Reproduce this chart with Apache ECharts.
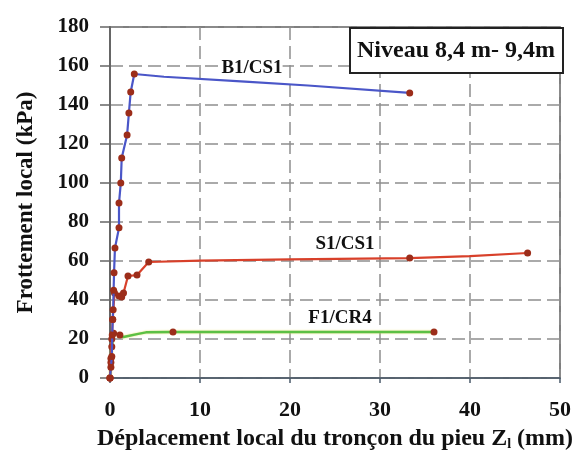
<!DOCTYPE html>
<html lang="fr">
<head>
    <meta charset="UTF-8">
    <title>Frottement local</title>
    <script src="https://cdn.jsdelivr.net/npm/echarts@6/dist/echarts.min.js"></script>
</head>
<body style="margin:0">
<div id="chart" style="width: 582px;height: 460px;"></div>
<script>
    // valeurs (Z en mm, frottement en kPa)
    var b1Disp = [0, 0.1, 0.2, 0.25, 0.3, 0.35, 0.4, 0.45, 0.55, 1.0, 1.0, 1.2, 1.3, 1.9, 2.1, 2.3, 2.7, 6, 15, 22, 33.3];
    var b1Frot = [0, 5.5, 11, 22, 30, 35, 45, 54, 66.7, 77, 89.7, 100, 112.8, 124.6, 135.9, 146.7, 155.9, 154.5, 152, 150, 146.2];
    var b1Marks = [1, 1, 1, 1, 1, 1, 1, 1, 1, 1, 1, 1, 1, 1, 1, 1, 1, 0, 0, 0, 1];

    var s1Disp = [0, 0.1, 0.2, 0.3, 0.5, 1.0, 1.3, 1.5, 2.0, 3.0, 4.3, 10, 20, 33.3, 40, 46.4];
    var s1Frot = [0, 10, 20, 30, 43.6, 42, 41.5, 43.6, 52.3, 52.8, 59.5, 60.2, 60.8, 61.5, 62.5, 64.1];
    var s1Marks = [1, 1, 1, 1, 1, 1, 1, 1, 1, 1, 1, 0, 0, 1, 0, 1];

    var f1Disp = [0, 0.1, 0.2, 0.4, 1.1, 1.5, 3.0, 4.0, 7.0, 20, 36.0];
    var f1Frot = [0, 8, 16, 23, 22, 21, 22.5, 23.4, 23.6, 23.6, 23.6];
    var f1Marks = [1, 1, 1, 1, 1, 0, 0, 0, 1, 0, 1];

    var xTicks = [0, 10, 20, 30, 40, 50];
    var yTicks = [0, 20, 40, 60, 80, 100, 120, 140, 160, 180];

    function build(xs, ys, marks) {
        var out = [];
        for (var i = 0; i < xs.length; i++) {
            var p = {value: [xs[i], ys[i]]};
            if (!marks[i]) p.symbol = 'none';
            out.push(p);
        }
        return out;
    }

    var serif = '"Liberation Serif", "DejaVu Serif", serif';
    var markerStyle = {color: '#9c2d1a'};

    var myChart = echarts.init(document.getElementById('chart'));
    var option = {
        backgroundColor: '#fff',
        animation: false,
        grid: {
            left: 110,
            right: 22,
            top: 27,
            bottom: 82,
            outerBoundsMode: 'none',
            show: true,
            borderColor: '#555',
            borderWidth: 1.5
        },
        xAxis: {
            type: 'value',
            min: 0,
            max: 50,
            interval: 10,
            name: '{a|Déplacement local du tronçon du pieu Z}{s|l}{a| (mm)}',
            nameLocation: 'center',
            nameGap: 49,
            nameTextStyle: {
                rich: {
                    a: {fontFamily: serif, fontWeight: 'bold', fontSize: 24, color: '#111'},
                    s: {fontFamily: serif, fontWeight: 'bold', fontSize: 14, color: '#111', verticalAlign: 'bottom', padding: [10, 0, 0, 0]}
                }
            },
            axisLine: {lineStyle: {color: '#4a5a6a', width: 1.5}},
            axisTick: {show: true, length: 5, lineStyle: {color: '#4a5a6a', width: 1.5}},
            axisLabel: {
                margin: 21,
                fontFamily: serif,
                fontWeight: 'bold',
                fontSize: 22,
                color: '#111',
                formatter: function (v) { return xTicks.indexOf(v) >= 0 ? v : ''; }
            },
            splitLine: {
                show: true,
                lineStyle: {color: '#8f8f8f', width: 1.5, type: [13, 6]}
            }
        },
        yAxis: {
            type: 'value',
            min: 0,
            max: 180,
            interval: 20,
            name: 'Frottement local (kPa)',
            nameLocation: 'center',
            nameGap: 72,
            nameTextStyle: {fontFamily: serif, fontWeight: 'bold', fontSize: 23, color: '#111'},
            axisLine: {lineStyle: {color: '#666', width: 2}},
            axisTick: {show: true, length: 10, lineStyle: {color: '#666', width: 1.5}},
            axisLabel: {
                margin: 21,
                fontFamily: serif,
                fontWeight: 'bold',
                fontSize: 21,
                color: '#111',
                formatter: function (v) { return yTicks.indexOf(v) >= 0 ? v : ''; }
            },
            splitLine: {
                show: true,
                lineStyle: {color: '#8f8f8f', width: 1.5, type: [13, 6]}
            }
        },
        series: [{
            name: 'B1/CS1',
            type: 'line',
            data: build(b1Disp, b1Frot, b1Marks),
            symbol: 'circle',
            symbolSize: 7,
            itemStyle: markerStyle,
            lineStyle: {color: '#4a56c8', width: 2.2},
            z: 4
        }, {
            name: 'S1/CS1',
            type: 'line',
            data: build(s1Disp, s1Frot, s1Marks),
            symbol: 'circle',
            symbolSize: 7,
            itemStyle: markerStyle,
            lineStyle: {color: '#d8402a', width: 2.2},
            z: 3
        }, {
            name: 'F1/CR4',
            type: 'line',
            data: build(f1Disp, f1Frot, f1Marks),
            symbol: 'circle',
            symbolSize: 7,
            itemStyle: markerStyle,
            lineStyle: {color: '#5cc045', width: 2.5, shadowColor: '#e8e070', shadowBlur: 2},
            z: 2
        }],
        graphic: [{
            type: 'rect',
            shape: {x: 350, y: 28, width: 213, height: 45},
            style: {fill: '#fff', stroke: '#222', lineWidth: 2},
            z: 10
        }, {
            type: 'text',
            x: 456, y: 51,
            style: {text: 'Niveau 8,4 m- 9,4m', font: 'bold 24px ' + serif, fill: '#111', textAlign: 'center', textVerticalAlign: 'middle'},
            z: 11
        }, {
            type: 'text',
            x: 252, y: 68,
            style: {text: 'B1/CS1', font: 'bold 19px ' + serif, fill: '#111', textAlign: 'center', textVerticalAlign: 'middle', backgroundColor: '#fff'},
            z: 11
        }, {
            type: 'text',
            x: 345, y: 244,
            style: {text: 'S1/CS1', font: 'bold 19px ' + serif, fill: '#111', textAlign: 'center', textVerticalAlign: 'middle', backgroundColor: '#fff'},
            z: 11
        }, {
            type: 'text',
            x: 340, y: 318,
            style: {text: 'F1/CR4', font: 'bold 19px ' + serif, fill: '#111', textAlign: 'center', textVerticalAlign: 'middle', backgroundColor: '#fff'},
            z: 11
        }]
    };
    myChart.setOption(option);
</script>
</body>
</html>
